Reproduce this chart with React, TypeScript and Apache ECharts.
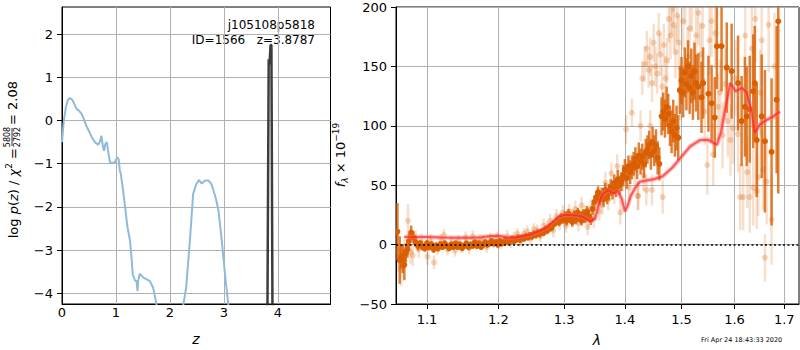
import React, { useEffect, useRef } from "react";
import * as echarts from "echarts";

// ---------- tick labels ----------
const zTicks = [0, 1, 2, 3, 4];
const logpTicks = [-4, -3, -2, -1, 0, 1, 2];
const lamTicks = [1.1, 1.2, 1.3, 1.4, 1.5, 1.6, 1.7];

// ---------- left panel: log p(z) ----------
const pzZ = [0.0, 0.03, 0.07, 0.11, 0.148, 0.19, 0.23, 0.27, 0.32, 0.36, 0.40, 0.45, 0.49, 0.55, 0.61, 0.67, 0.70, 0.73, 0.76, 0.78, 0.80, 0.83, 0.86, 0.89, 0.94, 0.98, 1.02, 1.05, 1.07, 1.09, 1.13, 1.17, 1.21, 1.26, 1.29, 1.31, 1.35, 1.38, 1.40, 1.41, 1.44, 1.51, 1.57, 1.63, 1.69, 1.75, 1.80, 2.20, 2.25, 2.30, 2.37, 2.43, 2.49, 2.54, 2.59, 2.65, 2.71, 2.76, 2.80, 2.85, 2.90, 2.96, 3.02, 3.08, 3.12];
const pzLogp = [-0.5, -0.05, 0.3, 0.48, 0.52, 0.48, 0.38, 0.27, 0.22, 0.16, 0.05, -0.12, -0.22, -0.38, -0.50, -0.56, -0.5, -0.35, -0.62, -0.70, -0.55, -0.50, -0.75, -0.97, -0.98, -0.97, -0.85, -0.9, -1.15, -1.24, -1.6, -2.01, -2.45, -2.78, -3.2, -3.56, -3.70, -3.72, -3.95, -3.72, -3.55, -3.64, -3.68, -3.72, -3.88, -4.25, -5.0, -5.0, -4.25, -3.88, -2.78, -1.70, -1.47, -1.38, -1.46, -1.39, -1.39, -1.45, -1.59, -1.8, -2.09, -2.78, -3.56, -4.25, -5.0];
const peakZ = [3.80, 3.83, 3.845, 3.865, 3.88, 3.905];
const peakLogp = [-6, 1.42, 1.3, 1.75, 1.75, -6];

// ---------- right panel: spectrum [lambda, flux, err] ----------
const darkSpec = [
  [1.061, 11, 24], [1.064, -13, 20], [1.066, -10, 10], [1.068, -12, 12], [1.070, -17, 13], [1.072, -7, 8], [1.074, -4, 7],
  [1.076, 3, 6], [1.079, 10, 6], [1.082, 6, 5], [1.085, 2, 4], [1.088, -1, 4], [1.091, 1, 3], [1.094, -2, 3],
  [1.097, -3, 3], [1.100, 1, 3], [1.103, -2, 3], [1.106, 0, 3], [1.109, -4, 3], [1.112, -1, 3], [1.115, -3, 3], [1.118, 0, 3],
  [1.121, -2, 2.5], [1.124, 1, 2.5], [1.127, -1, 2.5], [1.130, -3, 2.5], [1.133, 0, 2.5], [1.136, -2, 2.5], [1.139, 1, 2.5],
  [1.142, -2, 2.5], [1.145, 0, 2.5], [1.148, -3, 2.5], [1.151, -1, 2.5], [1.154, 1, 2.5], [1.157, -2, 2.5], [1.160, 0, 2.5],
  [1.163, -1, 2.5], [1.166, 2, 2.5], [1.169, -1, 2.5], [1.172, 1, 2.5], [1.175, -2, 2.5], [1.178, 0, 2.5], [1.181, 2, 2.5],
  [1.184, 0, 2.5], [1.187, 1, 2.5], [1.190, 3, 2.5], [1.193, 1, 2.5], [1.196, 2, 2.5], [1.199, 0, 2.5], [1.202, 3, 2.5],
  [1.205, 1, 2.5], [1.208, 2, 2.5], [1.211, 4, 2.5], [1.214, 2, 2.5], [1.217, 3, 2.5], [1.220, 5, 2.5], [1.223, 3, 2.5],
  [1.226, 4, 2.5], [1.229, 6, 2.5],
  [1.232, 4, 2.5], [1.235, 6, 2.5], [1.238, 5, 2.5], [1.241, 7, 2.5], [1.244, 6, 2.5], [1.247, 8, 2.5], [1.250, 7, 3],
  [1.253, 9, 3], [1.256, 8, 3], [1.259, 10, 3], [1.262, 9, 3], [1.265, 11, 3], [1.268, 10, 3], [1.271, 13, 3],
  [1.274, 12, 3], [1.277, 15, 3], [1.280, 14, 3], [1.283, 17, 3], [1.286, 18, 3], [1.289, 20, 3], [1.292, 19, 3.5],
  [1.295, 23, 3.5], [1.298, 21, 3.5],
  [1.301, 24, 4], [1.304, 20, 4], [1.307, 26, 4], [1.310, 22, 4], [1.313, 19, 4], [1.316, 25, 4], [1.319, 21, 4],
  [1.322, 27, 4], [1.325, 23, 4], [1.328, 20, 4], [1.331, 26, 4], [1.334, 22, 4], [1.337, 28, 4.5], [1.340, 24, 4.5],
  [1.343, 21, 4.5], [1.346, 30, 5], [1.349, 36, 5], [1.352, 40, 5], [1.355, 44, 5], [1.358, 38, 5],
  [1.361, 42, 6], [1.364, 38, 6], [1.367, 46, 6], [1.370, 40, 6], [1.373, 44, 7], [1.376, 48, 7],
  [1.379, 45, 7], [1.382, 52, 7], [1.385, 47, 7], [1.388, 55, 8], [1.391, 50, 8], [1.394, 53, 8],
  [1.397, 58, 9], [1.400, 63, 9], [1.403, 56, 9], [1.406, 66, 9], [1.409, 61, 10], [1.412, 65, 10],
  [1.415, 68, 10], [1.418, 72, 10], [1.421, 66, 11], [1.424, 75, 11], [1.427, 70, 11], [1.430, 74, 11], [1.433, 68, 12], [1.436, 77, 12],
  [1.439, 80, 12], [1.442, 84, 12], [1.445, 76, 13], [1.448, 86, 13], [1.451, 79, 13], [1.454, 83, 14], [1.457, 73, 14], [1.460, 68, 14],
  [1.464, 108, 16], [1.467, 112, 16], [1.470, 106, 16], [1.473, 116, 17], [1.476, 110, 17],
  [1.479, 100, 17], [1.482, 95, 18], [1.485, 104, 18], [1.488, 92, 18], [1.491, 98, 19], [1.494, 90, 19],
  [1.497, 130, 20], [1.500, 138, 20], [1.503, 128, 21], [1.506, 145, 21], [1.509, 135, 22], [1.512, 150, 22], [1.515, 132, 22],
  [1.518, 142, 23], [1.521, 128, 23], [1.524, 146, 24], [1.527, 136, 24],
  [1.531, 133, 28], [1.537, 124, 30], [1.540, 136, 30], [1.550, 127, 32], [1.556, 119, 32], [1.562, 107, 34], [1.566, 167, 36],
  [1.575, 167, 38], [1.585, 149, 38], [1.5945, 146, 40], [1.607, 136, 40], [1.614, 104, 38], [1.6205, 116, 42], [1.624, 108, 42],
  [1.630, 114, 45], [1.637, 129, 48], [1.640, 136, 48], [1.644, 88, 48], [1.654, 108, 52], [1.6605, 87, 60], [1.674, 78, 62],
  [1.6844, 122, 62], [1.6877, 188, 145],
];

const lightSpec = [
  [1.062, -5, 18], [1.066, -20, 15], [1.070, -8, 12], [1.0748, 20, 14], [1.078, -6, 10], [1.081, -9, 9], [1.085, 4, 8],
  [1.089, -4, 7], [1.093, 2, 7], [1.1005, -10, 7], [1.105, 3, 6], [1.1094, -15, 6], [1.114, -3, 6], [1.119, 4, 5],
  [1.123, 8, 5], [1.128, -4, 5], [1.133, 2, 5], [1.138, -5, 5], [1.143, 3, 5], [1.148, -2, 5], [1.153, 6, 5],
  [1.158, -3, 5], [1.163, 7, 5], [1.168, 0, 5], [1.173, 4, 5], [1.178, 3, 5], [1.183, -2, 5], [1.188, 5, 5],
  [1.193, 2, 5], [1.198, 6, 5], [1.203, 1, 5], [1.208, 4, 5], [1.213, 7, 5], [1.218, 2, 5], [1.223, 6, 5], [1.228, 9, 5],
  [1.233, 3, 5], [1.238, 9, 5], [1.243, 11, 5], [1.248, 5, 5], [1.253, 13, 5], [1.258, 12, 5], [1.263, 7, 5],
  [1.268, 16, 6], [1.273, 14, 6], [1.278, 20, 6], [1.283, 12, 6], [1.288, 24, 6], [1.293, 18, 6], [1.298, 27, 6],
  [1.303, 16, 6], [1.308, 28, 6], [1.313, 23, 7], [1.318, 30, 7], [1.323, 18, 7], [1.328, 33, 7], [1.333, 26, 7],
  [1.338, 15, 7], [1.343, 30, 8], [1.348, 22, 8], [1.353, 40, 8], [1.357, 28, 8],
  [1.362, 33, 8], [1.367, 52, 9], [1.372, 38, 9], [1.377, 60, 9], [1.382, 44, 10], [1.387, 66, 10], [1.392, 27, 10],
  [1.397, 55, 10], [1.402, 97, 12], [1.407, 48, 11], [1.412, 111, 12], [1.417, 62, 12], [1.422, 41, 12], [1.427, 100, 13],
  [1.432, 58, 13], [1.437, 46, 13],
  [1.430, 140, 14], [1.434, 152, 15], [1.438, 165, 15], [1.441, 147, 15], [1.444, 158, 16], [1.447, 136, 16], [1.450, 170, 16],
  [1.453, 150, 17], [1.456, 144, 17], [1.459, 178, 17], [1.462, 160, 18], [1.465, 133, 18], [1.468, 168, 18], [1.471, 140, 19],
  [1.474, 155, 19], [1.477, 190, 20], [1.480, 176, 20], [1.483, 198, 21], [1.486, 185, 21], [1.489, 162, 22], [1.492, 193, 22],
  [1.495, 170, 23], [1.498, 128, 23], [1.444, 100, 13], [1.447, 46, 13], [1.466, 40, 14], [1.423, 41, 12],
  [1.503, 188, 24], [1.507, 210, 25], [1.511, 158, 25], [1.515, 182, 25], [1.519, 205, 26], [1.523, 146, 26], [1.527, 176, 26],
  [1.531, 195, 27], [1.535, 160, 27], [1.539, 184, 28], [1.543, 112, 28], [1.548, 67, 25], [1.552, 172, 29], [1.556, 188, 30],
  [1.559, 76, 26], [1.563, 178, 30],
  [1.568, 116, 28], [1.572, 128, 28], [1.577, 92, 28], [1.582, 135, 30], [1.587, 104, 30], [1.592, 88, 30], [1.597, 98, 30],
  [1.602, 140, 32], [1.607, 93, 32], [1.611, 40, 28], [1.617, 40, 28], [1.621, 176, 34], [1.625, 61, 30], [1.630, 40, 30],
  [1.634, 165, 35], [1.637, 48, 32], [1.641, 190, 36], [1.644, 45, 32], [1.647, 57, 33], [1.651, 128, 36], [1.654, 172, 38],
  [1.657, 63, 34], [1.6605, -11, 20], [1.664, 53, 36], [1.668, 185, 40], [1.674, 21, 38], [1.680, 150, 45],
];

const modelLam = [1.070, 1.085, 1.10, 1.12, 1.14, 1.16, 1.175, 1.19, 1.20, 1.212, 1.224, 1.236, 1.247, 1.26, 1.272, 1.28, 1.29, 1.30, 1.31, 1.32, 1.33, 1.342, 1.350, 1.356, 1.362, 1.372, 1.38, 1.388, 1.395, 1.40, 1.405, 1.41, 1.418, 1.426, 1.437, 1.45, 1.466, 1.483, 1.50, 1.516, 1.534, 1.55, 1.558, 1.566, 1.574, 1.582, 1.592, 1.602, 1.614, 1.624, 1.634, 1.640, 1.650, 1.664, 1.678, 1.691];
const modelFlux = [6.5, 6.5, 6.3, 6.0, 5.8, 5.8, 6.2, 7.2, 7.5, 6.0, 6.0, 7.0, 8.4, 11, 14, 18, 23, 25, 25, 24.5, 23.5, 19.6, 22, 34, 42, 46, 43, 45, 38, 28, 33, 41, 48, 53, 54, 55, 57.5, 64.6, 74, 82.7, 88, 88, 86, 84, 95, 114, 136, 129, 132, 128, 111, 94, 101, 105, 108, 112];

const LAM_MIN = 1.0592;
const LAM_MAX = 1.7309;
const FLUX_MIN = -50;
const FLUX_MAX = 200;

const FONT = "DejaVu Sans";
const minusFmt = (v: number) => (v < 0 ? "\u2212" + Math.abs(v) : String(v));

function errItem(stroke: string, fill: string, r: number) {
  return (params: any, api: any) => {
    const x = api.value(0);
    const y = api.value(1);
    const e = api.value(2);
    const lo = Math.max(y - e, FLUX_MIN);
    const hi = Math.min(y + e, FLUX_MAX);
    const children: any[] = [];
    if (hi > lo) {
      const p1 = api.coord([x, lo]);
      const p2 = api.coord([x, hi]);
      children.push({
        type: "line",
        shape: { x1: p1[0], y1: p1[1], x2: p2[0], y2: p2[1] },
        style: { stroke, lineWidth: 2.5 },
      });
    }
    if (y >= FLUX_MIN && y <= FLUX_MAX) {
      const c = api.coord([x, y]);
      children.push({ type: "circle", shape: { cx: c[0], cy: c[1], r }, style: { fill } });
    }
    return { type: "group", children };
  };
}

function buildOption() {
  const axisLine = { show: true, onZero: false, lineStyle: { color: "#000", width: 1 } };
  const splitLine = { show: true, lineStyle: { color: "#b0b0b0", width: 1 } };
  const labelBase = { color: "#000", fontSize: 13, fontFamily: FONT };

  const lamLog = lamTicks.map((v) => Math.log(v));

  return {
    animation: false,
    backgroundColor: "#fff",
    textStyle: { fontFamily: FONT },
    grid: [
      { left: 62, top: 7, width: 268.5, height: 297, show: true, borderColor: "#000", borderWidth: 1, backgroundColor: "transparent" },
      { left: 396, top: 7, width: 403, height: 297, show: true, borderColor: "#000", borderWidth: 1, backgroundColor: "transparent" },
    ],
    xAxis: [
      {
        gridIndex: 0, type: "value", min: 0, max: 4.975,
        axisLine, splitLine,
        axisTick: { show: false, customValues: zTicks },
        axisLabel: { ...labelBase, margin: 2, customValues: zTicks, formatter: minusFmt },
      },
      {
        gridIndex: 1, type: "value", min: Math.log(LAM_MIN), max: Math.log(LAM_MAX),
        axisLine, splitLine,
        axisTick: { show: true, length: 5, inside: false, customValues: lamLog, lineStyle: { color: "#000" } },
        axisLabel: { ...labelBase, margin: 9, customValues: lamLog, formatter: (v: number) => Math.exp(v).toFixed(1) },
      },
    ],
    yAxis: [
      {
        gridIndex: 0, type: "value", min: -4.25, max: 2.63,
        axisLine, splitLine,
        axisTick: { show: true, length: 5, inside: false, customValues: logpTicks, lineStyle: { color: "#000" } },
        axisLabel: { ...labelBase, margin: 9, customValues: logpTicks, formatter: minusFmt },
      },
      {
        gridIndex: 1, type: "value", min: FLUX_MIN, max: FLUX_MAX, interval: 50,
        axisLine, splitLine,
        axisTick: { show: true, length: 5, inside: false, lineStyle: { color: "#000" } },
        axisLabel: { ...labelBase, margin: 9, formatter: minusFmt },
      },
    ],
    series: [
      {
        type: "line", xAxisIndex: 0, yAxisIndex: 0, showSymbol: false, symbol: "none",
        data: pzZ.map((z, i) => [z, pzLogp[i]]),
        lineStyle: { color: "#8fbbd9", width: 2 },
      },
      {
        type: "line", xAxisIndex: 0, yAxisIndex: 0, showSymbol: false, symbol: "none",
        data: peakZ.map((z, i) => [z, peakLogp[i]]),
        lineStyle: { color: "rgba(40,40,40,0.9)", width: 2.5 },
      },
      {
        type: "custom", xAxisIndex: 1, yAxisIndex: 1, clip: true,
        renderItem: errItem("rgba(217,95,2,0.2)", "rgba(217,95,2,0.25)", 3),
        encode: { x: 0, y: 1 },
        data: lightSpec.map((d) => [Math.log(d[0]), d[1], d[2]]),
      },
      {
        type: "custom", xAxisIndex: 1, yAxisIndex: 1, clip: true,
        renderItem: errItem("rgba(217,95,2,0.8)", "#d95f02", 3),
        encode: { x: 0, y: 1 },
        data: darkSpec.map((d) => [Math.log(d[0]), d[1], d[2]]),
      },
      {
        type: "line", xAxisIndex: 1, yAxisIndex: 1, showSymbol: false, symbol: "none",
        data: modelLam.map((l, i) => [Math.log(l), modelFlux[i]]),
        lineStyle: { color: "rgba(255,110,110,0.45)", width: 4.5 },
      },
      {
        type: "line", xAxisIndex: 1, yAxisIndex: 1, showSymbol: false, symbol: "none",
        data: modelLam.map((l, i) => [Math.log(l), modelFlux[i]]),
        lineStyle: { color: "rgba(255,20,20,0.6)", width: 2 },
        markLine: {
          silent: true, symbol: "none", label: { show: false },
          lineStyle: { color: "#000", type: [2, 2.5], width: 1.5 },
          data: [{ yAxis: 0 }],
        },
      },
    ],
    graphic: [
      {
        type: "text", x: 315, y: 24.5,
        style: { text: "j105108p5818", fontSize: 12, fontFamily: FONT, fill: "#000", textAlign: "right", textVerticalAlign: "middle" },
      },
      {
        type: "text", x: 315, y: 39.5,
        style: { text: "ID=1566   z=3.8787", fontSize: 12, fontFamily: FONT, fill: "#000", textAlign: "right", textVerticalAlign: "middle" },
      },
      {
        type: "group", x: 12, y: 163, rotation: Math.PI / 2,
        children: [
          {
            type: "text", x: 15, y: 0,
            style: {
              text: "{n|log }{i|p}{n|(}{i|z}{n|) / }{i|χ}{s|2}{n| =}",
              textAlign: "right", textVerticalAlign: "middle", fill: "#000",
              rich: {
                n: { fontSize: 13, fontFamily: FONT, lineHeight: 16, verticalAlign: "bottom" },
                i: { fontSize: 13, fontFamily: FONT, fontStyle: "italic", lineHeight: 16, verticalAlign: "bottom" },
                s: { fontSize: 9, fontFamily: FONT, lineHeight: 16, verticalAlign: "top" },
              },
            },
          },
          {
            type: "text", x: 26, y: -4.5,
            style: { text: "5808", fontSize: 8, fontFamily: FONT, fill: "#000", textAlign: "center", textVerticalAlign: "middle" },
          },
          { type: "line", shape: { x1: 17, y1: 0, x2: 35, y2: 0 }, style: { stroke: "#000", lineWidth: 0.8 } },
          {
            type: "text", x: 26, y: 5,
            style: { text: "2792", fontSize: 8, fontFamily: FONT, fill: "#000", textAlign: "center", textVerticalAlign: "middle" },
          },
          {
            type: "text", x: 38, y: 0,
            style: { text: "= 2.08", fontSize: 13, fontFamily: FONT, fill: "#000", textAlign: "left", textVerticalAlign: "middle" },
          },
        ],
      },
      {
        type: "group", x: 340, y: 155, rotation: Math.PI / 2,
        children: [
          {
            type: "text", x: 0, y: 0,
            style: {
              text: "{i|f}{sub|λ}{n| × 10}{sup|−19}",
              textAlign: "center", textVerticalAlign: "middle", fill: "#000",
              rich: {
                n: { fontSize: 13, fontFamily: FONT, lineHeight: 18, verticalAlign: "middle" },
                i: { fontSize: 13, fontFamily: FONT, fontStyle: "italic", lineHeight: 18, verticalAlign: "middle" },
                sub: { fontSize: 9, fontFamily: FONT, fontStyle: "italic", lineHeight: 18, verticalAlign: "bottom" },
                sup: { fontSize: 9, fontFamily: FONT, lineHeight: 18, verticalAlign: "top" },
              },
            },
          },
        ],
      },
      {
        type: "text", x: 196, y: 339,
        style: { text: "z", fontSize: 14, fontStyle: "italic", fontFamily: FONT, fill: "#000", textAlign: "center", textVerticalAlign: "middle" },
      },
      {
        type: "text", x: 597, y: 340,
        style: { text: "λ", fontSize: 14, fontStyle: "italic", fontFamily: FONT, fill: "#000", textAlign: "center", textVerticalAlign: "middle" },
      },
      {
        type: "text", x: 701, y: 339.5,
        style: { text: "Fri Apr 24 18:43:33 2020", fontSize: 6.5, fontFamily: FONT, fill: "#000", textAlign: "left", textVerticalAlign: "middle" },
      },
    ],
  };
}

export default function App() {
  const ref = useRef<HTMLDivElement>(null);
  useEffect(() => {
    if (!ref.current) return;
    const chart = echarts.init(ref.current, null, { renderer: "svg" });
    chart.setOption(buildOption() as any);
    return () => chart.dispose();
  }, []);
  return (
    <div
      ref={ref}
      style={{ position: "fixed", left: 0, top: 0, width: 800, height: 350, background: "#fff" }}
    />
  );
}
